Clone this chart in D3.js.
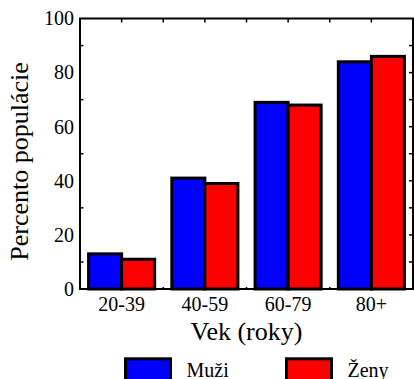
<!DOCTYPE html>
<html>
<head>
<meta charset="utf-8">
<script src="https://cdn.jsdelivr.net/npm/d3@7"></script>
<style>
  html, body { margin: 0; padding: 0; background: #fff; }
  svg { display: block; }
</style>
</head>
<body>
<svg id="chart" width="414" height="379"></svg>
<script>
// Age groups and share of population per group (percent)
const categories = ["20-39", "40-59", "60-79", "80+"];
const seriesNames = ["Muži", "Ženy"];
const men = [13, 41, 69, 84];
const women = [11, 39, 68, 86];
const yTicks = [0, 20, 40, 60, 80, 100];
const colors = ["#0000ff", "#ff0000"];

const FONT = "Liberation Serif";

const svg = d3.select("#chart");
const margin = { left: 80, right: 1, top: 18.5 };
const W = 414;
const plotBottom = 289;

// Continuous x so that categories sit on integer positions
const x = d3.scaleLinear().domain([-0.5, categories.length - 0.5]).range([margin.left, W - margin.right]);
const y = d3.scaleLinear().domain([0, 100]).range([plotBottom, margin.top]);
const band = x(1) - x(0);
const barW = band * 0.397;
const x0 = x.range()[0], x1 = x.range()[1];

// Y tick labels
svg.selectAll(".ylab").data(yTicks).enter().append("text")
  .attr("class", "ylab")
  .attr("x", x0 - 6).attr("y", d => y(d)).attr("dy", "0.34em")
  .attr("text-anchor", "end")
  .attr("font-family", FONT).attr("font-size", 20)
  .text(d => d3.format("d")(d));

// Category labels
svg.selectAll(".xlab").data(categories).enter().append("text")
  .attr("class", "xlab")
  .attr("x", (d, i) => x(i)).attr("y", plotBottom + 22)
  .attr("text-anchor", "middle")
  .attr("font-family", FONT).attr("font-size", 20)
  .text(d => d);

// Axis titles
svg.append("text")
  .attr("x", (x0 + x1) / 2).attr("y", 339.5)
  .attr("text-anchor", "middle").attr("font-family", FONT).attr("font-size", 26)
  .text("Vek (roky)");

svg.append("text")
  .attr("transform", `translate(28,161.5) rotate(-90)`)
  .attr("text-anchor", "middle").attr("font-family", FONT).attr("font-size", 26)
  .text("Percento populácie");

const g = svg.append("g");

// Bars
const series = [men, women];
series.forEach((vals, si) => {
  g.selectAll(null)
    .data(vals)
    .enter()
    .append("rect")
    .attr("x", (d, i) => si === 0 ? x(i) - barW : x(i))
    .attr("y", d => y(d))
    .attr("width", barW)
    .attr("height", d => plotBottom - y(d))
    .attr("fill", colors[si])
    .attr("stroke", "#000")
    .attr("stroke-width", 3);
});

// Frame
g.append("rect")
  .attr("x", x0).attr("y", y(100))
  .attr("width", x1 - x0).attr("height", plotBottom - y(100))
  .attr("fill", "none").attr("stroke", "#000").attr("stroke-width", 2);

// Left axis minor inward ticks
const minorY = [10, 30, 50, 70, 90];
g.selectAll(null).data(minorY).enter().append("line")
  .attr("x1", x0).attr("x2", x0 + 3.5)
  .attr("y1", d => y(d)).attr("y2", d => y(d))
  .attr("stroke", "#000").attr("stroke-width", 1.5);

// Right axis ticks every 10
const rightTicks = d3.range(10, 100, 10);
g.selectAll(null).data(rightTicks).enter().append("line")
  .attr("x1", x1).attr("x2", x1 - 4)
  .attr("y1", d => y(d)).attr("y2", d => y(d))
  .attr("stroke", "#000").attr("stroke-width", 1.5);

// Top ticks at categories and midpoints
const topTicks = d3.range(0, categories.length - 0.5, 0.5);
g.selectAll(null).data(topTicks).enter().append("line")
  .attr("x1", d => x(d)).attr("x2", d => x(d))
  .attr("y1", y(100)).attr("y2", y(100) + 4)
  .attr("stroke", "#000").attr("stroke-width", 1.5);

// Bottom small ticks between groups
const bottomTicks = [0.5, 1.5, 2.5];
g.selectAll(null).data(bottomTicks).enter().append("line")
  .attr("x1", d => x(d)).attr("x2", d => x(d))
  .attr("y1", plotBottom).attr("y2", plotBottom - 2)
  .attr("stroke", "#000").attr("stroke-width", 1.5);

// Legend
const legendX = [125.5, 286.5];
const leg = svg.selectAll(".leg").data(seriesNames).enter().append("g").attr("class", "leg");
leg.append("rect")
  .attr("x", (d, i) => legendX[i]).attr("y", 358.8)
  .attr("width", 45).attr("height", 30)
  .attr("fill", (d, i) => colors[i]).attr("stroke", "#000").attr("stroke-width", 3);
leg.append("text")
  .attr("x", (d, i) => legendX[i] + 61).attr("y", 376.5)
  .attr("font-family", FONT).attr("font-size", 20)
  .text(d => d);
</script>
</body>
</html>
